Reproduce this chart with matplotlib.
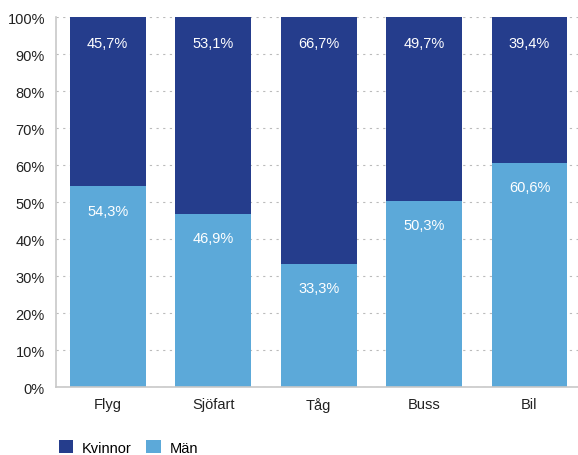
import matplotlib.pyplot as plt
import numpy as np

plt.rcParams['font.family'] = ['Liberation Sans', 'DejaVu Sans']

# Andel kvinnor och män per trafikslag
categories = ['Flyg', 'Sjöfart', 'Tåg', 'Buss', 'Bil']
man = [54.3, 46.9, 33.3, 50.3, 60.6]
kvinnor = [45.7, 53.1, 66.7, 49.7, 39.4]

dark = '#253d8c'
light = '#5ca9d9'

fig = plt.figure(figsize=(5.78, 4.56), dpi=100)
ax = fig.add_axes([0.097, 0.149, 0.903, 0.8115])

x = np.arange(len(categories))
ax.bar(x, man, width=0.72, color=light, zorder=2, label='Män')
ax.bar(x, kvinnor, width=0.72, bottom=man, color=dark, zorder=2, label='Kvinnor')

def fmt(v):
    return f'{v:.1f}%'.replace('.', ',')

for i in x:
    ax.text(i, man[i] - 6.6, fmt(man[i]), ha='center', va='center',
            color='white', fontsize=10.5, zorder=3)
    ax.text(i, 100 - 7, fmt(kvinnor[i]), ha='center', va='center',
            color='white', fontsize=10.5, zorder=3)

ax.set_xlim(-0.49, 4.46)
ax.set_ylim(0, 100)
ax.set_yticks(np.arange(0, 101, 10))
ax.set_yticklabels([f'{t}%' for t in range(0, 101, 10)])
ax.set_xticks(x)
ax.set_xticklabels(categories)
ax.tick_params(length=0, labelsize=10.5, colors='#222222')
ax.tick_params(axis='x', pad=7)
ax.tick_params(axis='y', pad=8)

ax.yaxis.grid(True, color='#bbbbbb', linestyle=(0, (2, 4)), linewidth=0.8, zorder=0)
for s in ['top', 'right']:
    ax.spines[s].set_visible(False)
for s in ['left', 'bottom']:
    ax.spines[s].set_color('#c8c8c8')
    ax.spines[s].set_linewidth(1.2)

handles, labels = ax.get_legend_handles_labels()
fig.legend(handles[::-1], labels[::-1], loc='center left', bbox_to_anchor=(0.089, 0.016),
           ncol=2, frameon=False, fontsize=10.5, handlelength=1.0, handleheight=1.0,
           columnspacing=1.0, handletextpad=0.6, borderpad=0)

fig.savefig('out.png', dpi=100)
